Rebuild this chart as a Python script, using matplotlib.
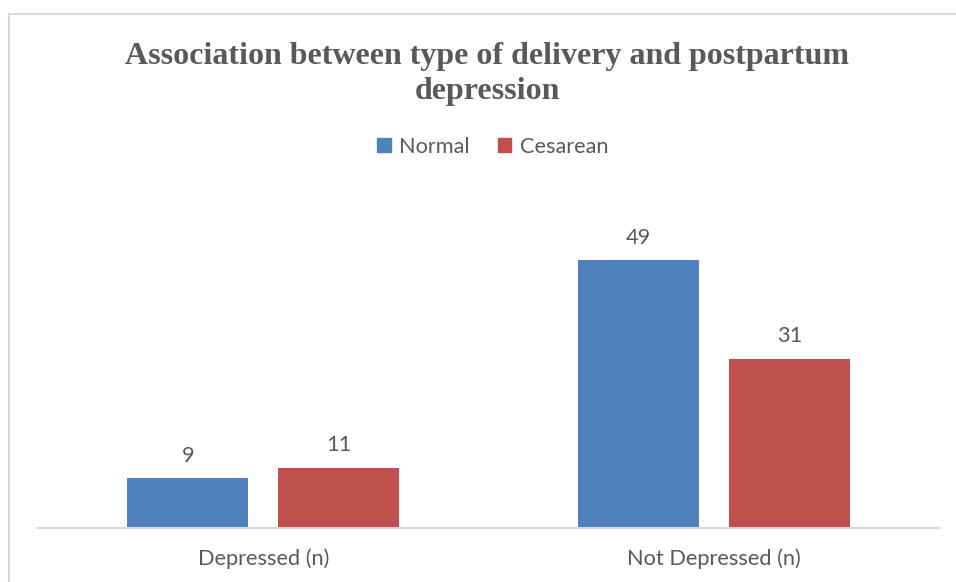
import matplotlib.pyplot as plt
from matplotlib.lines import Line2D
from matplotlib.patches import Patch

categories = ["Depressed (n)", "Not Depressed (n)"]
normal = [9, 49]
cesarean = [11, 31]
series_names = ["Normal", "Cesarean"]

BLUE = "#4f81bd"
RED = "#c0504d"
GREY_TEXT = "#595959"
GRID = "#d9d9d9"
FS = 15.7

W, H = 956, 582
fig = plt.figure(figsize=(W / 100, H / 100), dpi=100)

# outer chart frame (only left and top edges fall inside the canvas)
fig.add_artist(Line2D([9 / W, 9 / W], [0, 1 - 14 / H], color=GRID, lw=1.5,
                      transform=fig.transFigure))
fig.add_artist(Line2D([9 / W, 1], [1 - 14 / H, 1 - 14 / H], color=GRID, lw=1.5,
                      transform=fig.transFigure))

ax = fig.add_axes([38 / W, (H - 527.5) / H, 901 / W, 327 / H])

x = list(range(len(categories)))
width = 0.2686
offset = 0.1676
bars_n = ax.bar([i - offset for i in x], normal, width, color=BLUE)
bars_c = ax.bar([i + offset for i in x], cesarean, width, color=RED)

for bars, vals in ((bars_n, normal), (bars_c, cesarean)):
    for b, v in zip(bars, vals):
        ax.annotate(str(v), (b.get_x() + b.get_width() / 2, v),
                    xytext=(0, 16.5), textcoords="offset points",
                    ha="center", va="center", fontsize=FS,
                    family="Lato", color=GREY_TEXT)

ax.set_xlim(-0.5, 1.5)
ax.set_ylim(0, 60)
ax.set_xticks(x)
ax.set_xticklabels(categories, fontsize=FS, family="Lato", color=GREY_TEXT)
ax.tick_params(axis="x", length=0, pad=15)
ax.set_yticks([])
for side in ("top", "right", "left"):
    ax.spines[side].set_visible(False)
ax.spines["bottom"].set_color(GRID)
ax.spines["bottom"].set_linewidth(1.5)

fig.text(487 / W, 1 - 74 / H,
         "Association between type of delivery and postpartum\ndepression",
         ha="center", va="center", fontsize=23, fontweight="bold",
         family="Liberation Serif", color=GREY_TEXT, linespacing=1.25)

handles = [Patch(color=BLUE), Patch(color=RED)]
fig.legend(handles, series_names, loc="center", bbox_to_anchor=(493 / W, 1 - 147 / H),
           ncol=2, frameon=False, handlelength=0.6, handleheight=0.6,
           handletextpad=0.4, columnspacing=1.3,
           prop={"family": "Lato", "size": FS}, labelcolor=GREY_TEXT)

fig.savefig("out.png", dpi=100)
